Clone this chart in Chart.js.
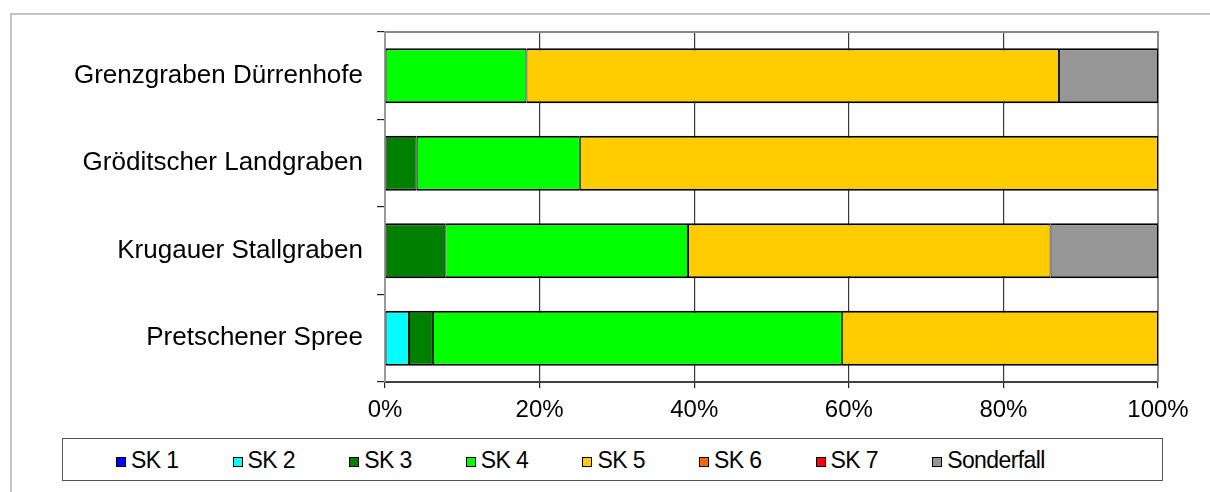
<!DOCTYPE html>
<html>
<head>
<meta charset="utf-8">
<script src="https://cdn.jsdelivr.net/npm/chart.js@4"></script>
<style>
  html, body { margin: 0; padding: 0; background: #fff; overflow: hidden; }
  body { width: 1210px; height: 492px; position: relative; font-family: "Liberation Sans", Arial, sans-serif; }
  #frame { position: absolute; left: 10px; top: 13px; width: 1300px; height: 600px; border: 2px solid #c4c4c4; }
  #wrap { position: absolute; left: 0; top: 0; width: 1210px; height: 492px; }
  #legend { position: absolute; left: 62px; top: 438px; width: 1099px; height: 41px; border: 1.5px solid #555; background: #fff; }
  .item { position: absolute; top: 0; height: 41px; line-height: 42px; font-size: 23px; color: #000; white-space: nowrap; letter-spacing: -0.6px; }
  .box { display: inline-block; width: 8px; height: 8px; border: 1.5px solid #000; margin-right: 5px; vertical-align: 1px; }
</style>
</head>
<body>
<div id="frame"></div>
<div id="wrap"><canvas id="chart" width="1210" height="492"></canvas></div>
<div id="legend"></div>
<script>
const categories = ['Grenzgraben Dürrenhofe', 'Gröditscher Landgraben', 'Krugauer Stallgraben', 'Pretschener Spree'];
const seriesLabels = ['SK 1', 'SK 2', 'SK 3', 'SK 4', 'SK 5', 'SK 6', 'SK 7', 'Sonderfall'];
const seriesColors = ['#0000ff', '#00ffff', '#008000', '#00ff00', '#ffcc00', '#ff6600', '#ff0000', '#969696'];

// share per class in percent, one entry per category
const sk1 = [0, 0, 0, 0];
const sk2 = [0, 0, 0, 3.1];
const sk3 = [0, 4.1, 7.8, 3.1];
const sk4 = [18.3, 21.1, 31.4, 52.9];
const sk5 = [68.9, 74.8, 46.9, 40.9];
const sk6 = [0, 0, 0, 0];
const sk7 = [0, 0, 0, 0];
const sonderfall = [12.8, 0, 13.9, 0];
const xTicks = [0, 20, 40, 60, 80, 100];

const series = [sk1, sk2, sk3, sk4, sk5, sk6, sk7, sonderfall];
const FONT = '"Liberation Sans", Arial, sans-serif';

const datasets = series.map((vals, i) => ({
  label: seriesLabels[i],
  data: vals.map(v => v > 0 ? v : null),
  backgroundColor: seriesColors[i],
  borderColor: '#000',
  borderWidth: { top: 2, bottom: 2, left: 1, right: 1 },
  borderSkipped: false,
  categoryPercentage: 1,
  barPercentage: 0.63
}));

// gray frame along the top and right side of the plot area
const plotFrame = {
  id: 'plotFrame',
  beforeDatasetsDraw(chart) {
    const { ctx, chartArea: a } = chart;
    ctx.save();
    ctx.strokeStyle = '#8a8a8a';
    ctx.lineWidth = 2;
    ctx.beginPath();
    ctx.moveTo(a.left, a.top);
    ctx.lineTo(a.right, a.top);
    ctx.lineTo(a.right, a.bottom);
    ctx.stroke();
    ctx.restore();
  }
};

new Chart(document.getElementById('chart'), {
  type: 'bar',
  data: { labels: categories, datasets },
  options: {
    indexAxis: 'y',
    responsive: false,
    animation: false,
    layout: { padding: { left: 10, top: 32, right: 52, bottom: 70 } },
    plugins: { legend: { display: false }, tooltip: { enabled: false } },
    scales: {
      x: {
        stacked: true,
        min: 0,
        max: 100,
        afterBuildTicks: axis => { axis.ticks = xTicks.map(v => ({ value: v })); },
        afterFit: axis => { axis.height = 40; },
        grid: {
          color: c => (c.tick && (c.tick.value === 0 || c.tick.value === 100)) ? 'rgba(0,0,0,0)' : '#3a3a3a',
          tickColor: '#222',
          lineWidth: 1.2,
          tickLength: 6
        },
        border: { color: '#404040', width: 2 },
        ticks: {
          padding: 8,
          color: '#000',
          font: { family: FONT, size: 24 },
          callback: v => v + '%'
        }
      },
      y: {
        stacked: true,
        afterFit: axis => { axis.width = 375; },
        grid: { drawOnChartArea: false, offset: true, tickLength: 8, tickColor: '#222', lineWidth: 1.2 },
        border: { color: '#9a9a9a', width: 2 },
        ticks: {
          padding: 14,
          color: '#000',
          font: { family: FONT, size: 26 }
        }
      }
    }
  },
  plugins: [plotFrame]
});

// legend row with fixed slots
const legend = document.getElementById('legend');
seriesLabels.forEach((name, i) => {
  const el = document.createElement('div');
  el.className = 'item';
  el.style.left = (53 + i * 116.6) + 'px';
  el.innerHTML = '<span class="box" style="background:' + seriesColors[i] + '"></span>' + name;
  legend.appendChild(el);
});
</script>
</body>
</html>
